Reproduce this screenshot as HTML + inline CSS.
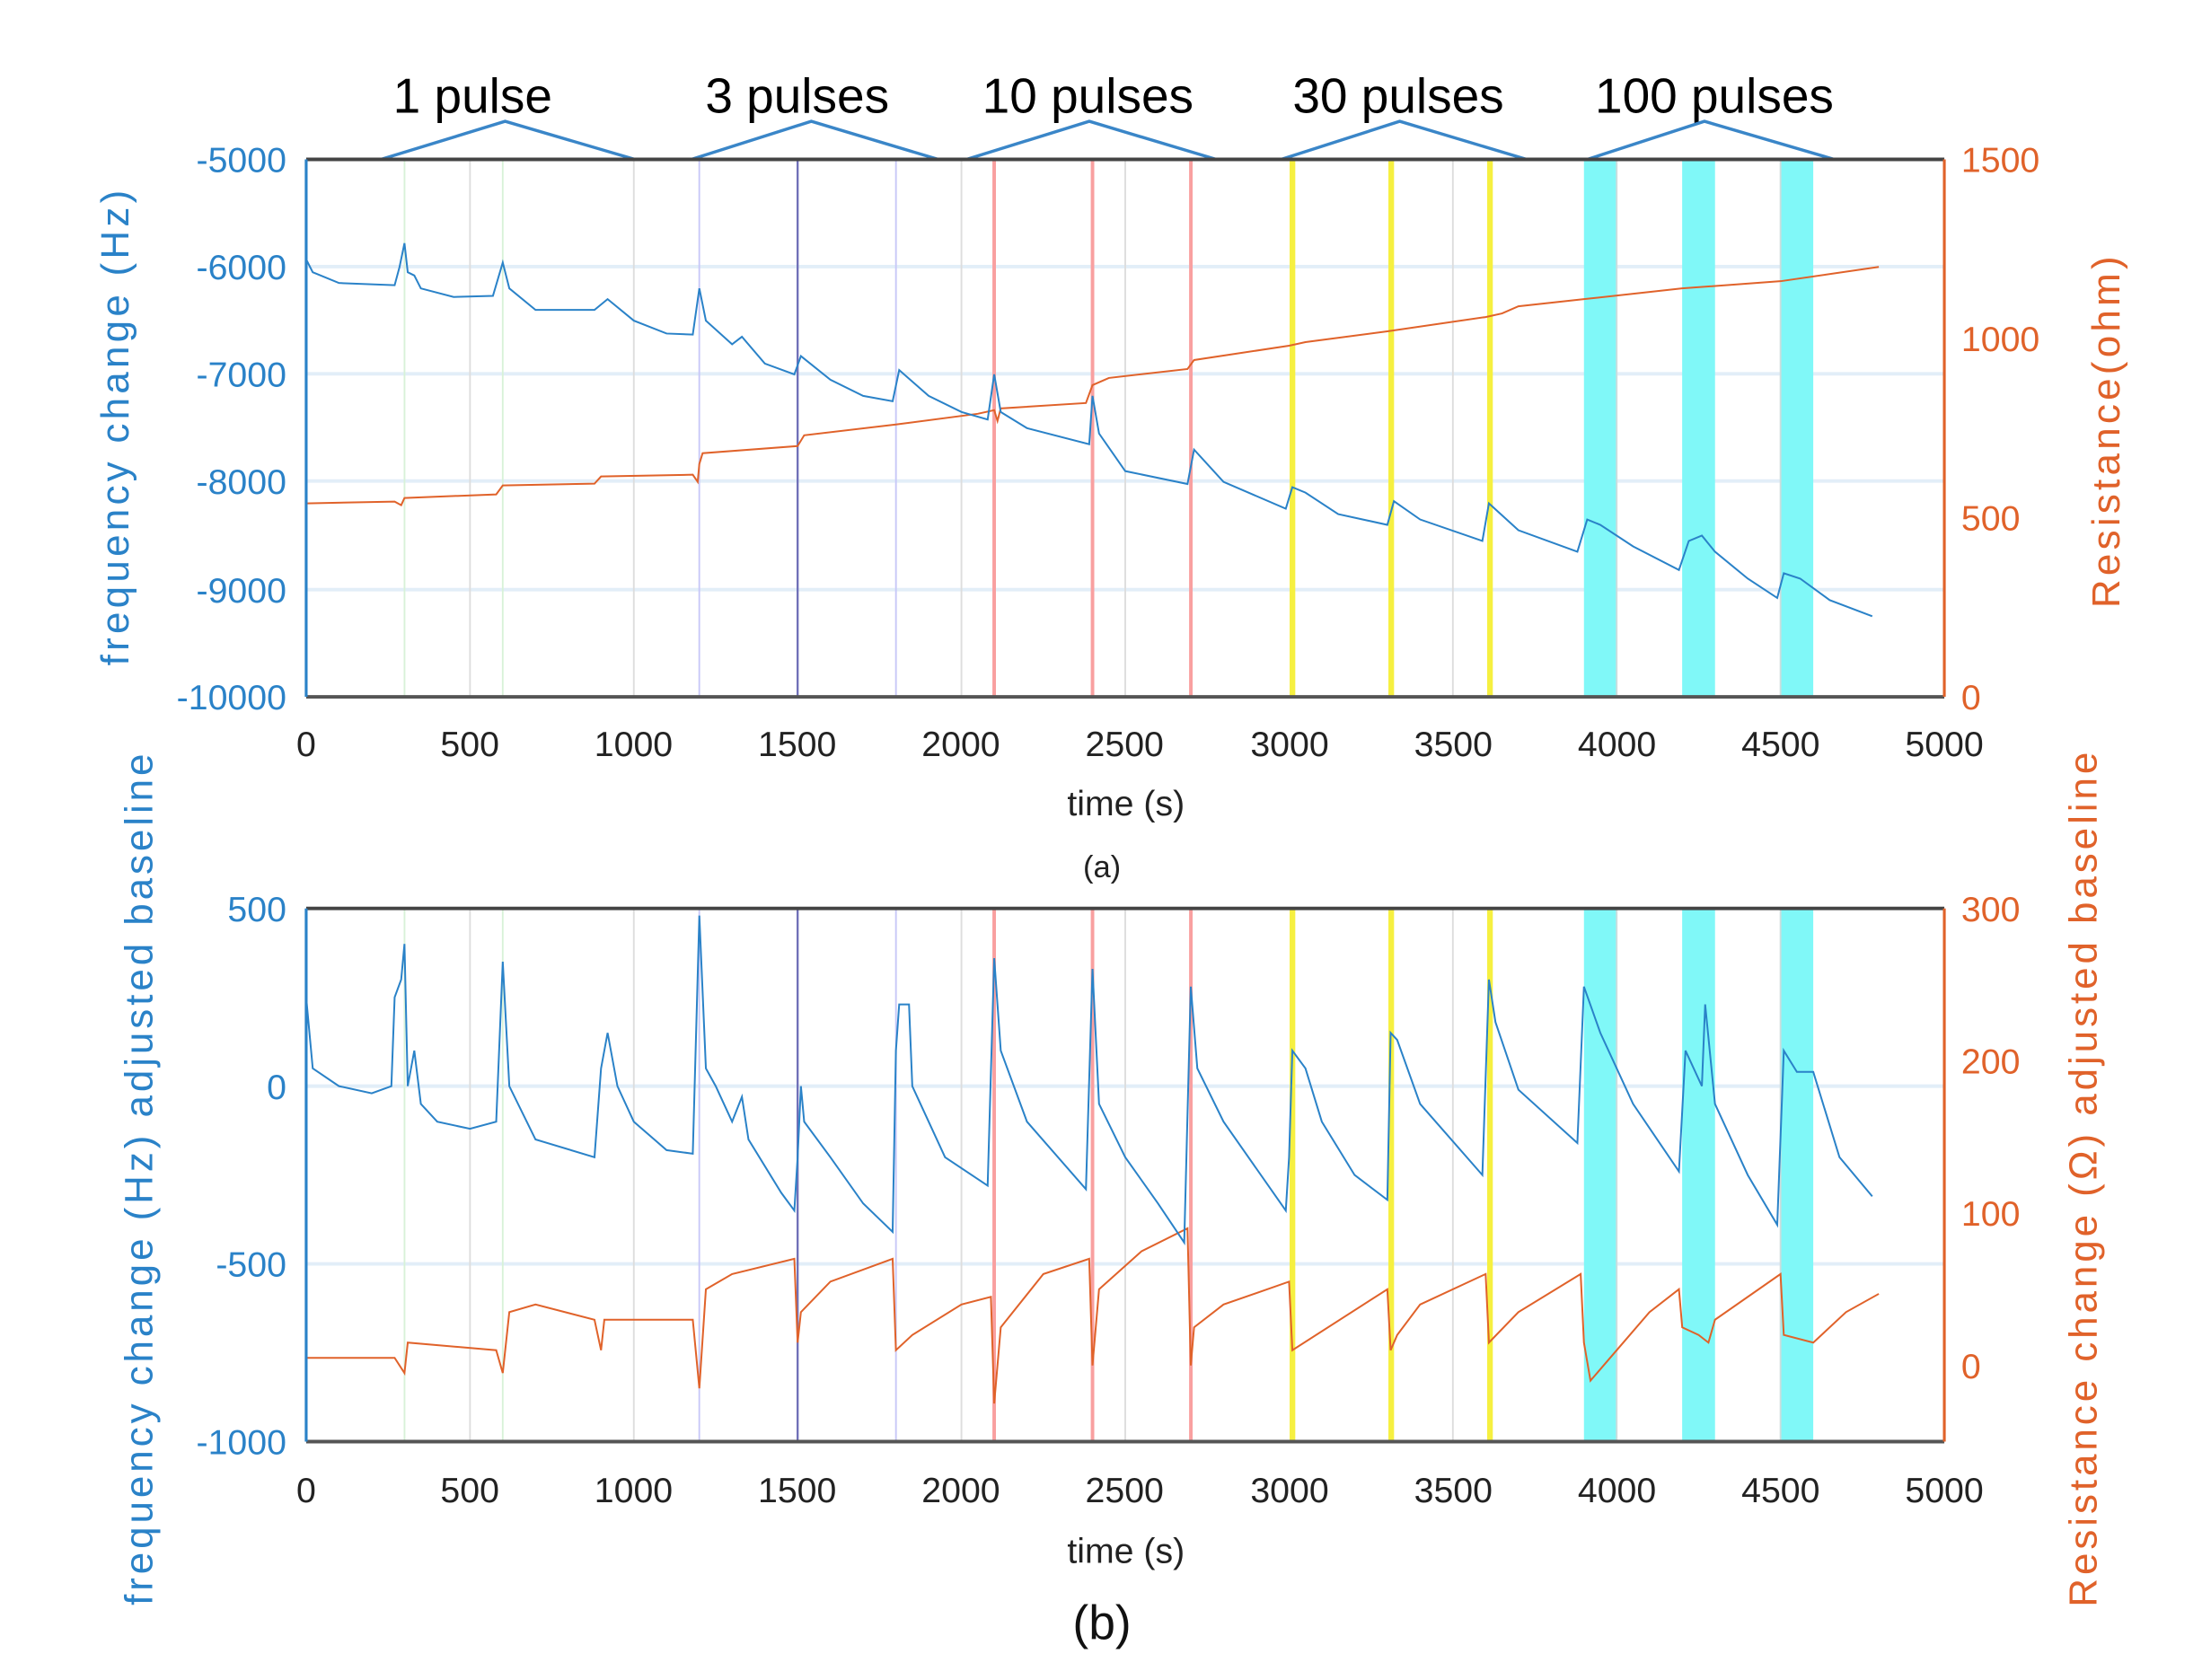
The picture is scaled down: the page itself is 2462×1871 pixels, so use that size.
<!DOCTYPE html>
<html><head><meta charset="utf-8"><style>html,body{margin:0;padding:0;background:#fff}svg{display:block}text{font-family:"Liberation Sans",sans-serif}</style></head><body>
<svg width="2462" height="1871" viewBox="0 0 1567 1191" preserveAspectRatio="none" xmlns="http://www.w3.org/2000/svg">
<g font-size="35" text-anchor="middle" fill="#000">
<text x="335" y="80">1 pulse</text><text x="565" y="80">3 pulses</text><text x="771" y="80">10 pulses</text><text x="991" y="80">30 pulses</text><text x="1215" y="80">100 pulses</text>
</g>
<g fill="none" stroke="#3a86c8" stroke-width="2.2">
<polyline points="270,113 358,86 450,113"/><polyline points="490,113 575,86 665,113"/><polyline points="685,113 772,86 862,113"/><polyline points="908,113 992,86 1082,113"/><polyline points="1125,113 1208,86 1300,113"/>
</g>

<!-- TOP PLOT -->
<g>
<g stroke="#e2eef8" stroke-width="2.5"><line x1="217" x2="1378" y1="189" y2="189"/><line x1="217" x2="1378" y1="265" y2="265"/><line x1="217" x2="1378" y1="341" y2="341"/><line x1="217" x2="1378" y1="418" y2="418"/></g>
<g fill="#80f8f8"><rect x="1122.6" y="113" width="23.2" height="381"/><rect x="1192.2" y="113" width="23.3" height="381"/><rect x="1261.9" y="113" width="23.2" height="381"/></g>
<g transform="translate(0,113)">
<g stroke-width="1.2">
<line x1="286.7" x2="286.7" y2="381" stroke="#d8f2d8"/><line x1="356.3" x2="356.3" y2="381" stroke="#d8f2d8"/>
<line x1="333.1" x2="333.1" y2="381" stroke="#ddd"/><line x1="449.2" x2="449.2" y2="381" stroke="#ddd"/>
<line x1="681.4" x2="681.4" y2="381" stroke="#ddd"/><line x1="797.5" x2="797.5" y2="381" stroke="#ddd"/><line x1="1029.7" x2="1029.7" y2="381" stroke="#ddd"/><line x1="1145.8" x2="1145.8" y2="381" stroke="#ccdddd"/><line x1="1261.9" x2="1261.9" y2="381" stroke="#ccdddd"/>
<line x1="495.6" x2="495.6" y2="381" stroke="#c8c8f8"/><line x1="635" x2="635" y2="381" stroke="#c8c8f8"/>
<line x1="565.3" x2="565.3" y2="381" stroke="#7070b8" stroke-width="1.5"/>
</g>
<g stroke="#f9a0a0" stroke-width="2.5"><line x1="704.6" x2="704.6" y2="381"/><line x1="774.3" x2="774.3" y2="381"/><line x1="844" x2="844" y2="381"/></g>
<g stroke="#f6f040" stroke-width="4"><line x1="916" x2="916" y2="381"/><line x1="986" x2="986" y2="381"/><line x1="1056" x2="1056" y2="381"/></g>
</g>
<g transform="translate(217,494) scale(0.2322,-0.254)"><polyline fill="none" stroke="#e0622a" stroke-width="2" vector-effect="non-scaling-stroke" points="0,540 270,545 290,535 300,555 580,565 600,590 880,595 900,615 1180,620 1195,600 1200,650 1210,680 1500,700 1520,730 1800,760 2050,790 2100,800 2110,770 2120,805 2380,820 2400,870 2450,890 2690,915 2710,940 3000,980 3050,990 3300,1020 3600,1060 3650,1070 3700,1090 3900,1110 4200,1140 4500,1160 4800,1200"/></g>
<g transform="translate(217,494) scale(0.2322,-0.0762) translate(0,10000)"><polyline fill="none" stroke="#2a82c8" stroke-width="2" vector-effect="non-scaling-stroke" points="0,-5930 20,-6050 100,-6150 270,-6170 285,-6000 300,-5780 310,-6050 330,-6080 350,-6200 450,-6280 570,-6270 600,-5960 620,-6200 700,-6400 880,-6400 920,-6300 1000,-6500 1100,-6620 1180,-6630 1200,-6200 1220,-6500 1300,-6720 1330,-6650 1400,-6900 1490,-7000 1510,-6830 1600,-7050 1700,-7200 1790,-7250 1810,-6960 1900,-7200 2000,-7350 2080,-7420 2100,-7000 2120,-7350 2200,-7500 2390,-7650 2400,-7200 2420,-7550 2500,-7900 2690,-8020 2710,-7700 2800,-8000 2990,-8250 3010,-8050 3050,-8100 3150,-8300 3300,-8400 3320,-8180 3400,-8350 3590,-8550 3610,-8200 3700,-8450 3880,-8650 3910,-8350 3950,-8400 4050,-8600 4190,-8820 4220,-8550 4260,-8500 4300,-8650 4400,-8900 4490,-9080 4510,-8850 4560,-8900 4650,-9100 4780,-9250"/></g>
<line x1="217" y1="113" x2="1378" y2="113" stroke="#444" stroke-width="2.5"/>
<line x1="217" y1="494" x2="1378" y2="494" stroke="#555" stroke-width="2.5"/>
<line x1="217" y1="113" x2="217" y2="494" stroke="#2a82c8" stroke-width="2"/>
<line x1="1378" y1="113" x2="1378" y2="494" stroke="#e0622a" stroke-width="2"/>
<g fill="#2a82c8" font-size="25" text-anchor="end"><text x="203" y="122">-5000</text><text x="203" y="198">-6000</text><text x="203" y="274">-7000</text><text x="203" y="350">-8000</text><text x="203" y="427">-9000</text><text x="203" y="503">-10000</text></g>
<g fill="#e0622a" font-size="25"><text x="1390" y="122">1500</text><text x="1390" y="249">1000</text><text x="1390" y="376">500</text><text x="1390" y="503">0</text></g>
<g font-size="25" text-anchor="middle" fill="#222"><text x="217" y="536">0</text><text x="333" y="536">500</text><text x="449" y="536">1000</text><text x="565" y="536">1500</text><text x="681" y="536">2000</text><text x="797" y="536">2500</text><text x="914" y="536">3000</text><text x="1030" y="536">3500</text><text x="1146" y="536">4000</text><text x="1262" y="536">4500</text><text x="1378" y="536">5000</text></g>
<text x="798" y="578" font-size="25" text-anchor="middle" fill="#222">time (s)</text>
<text transform="translate(91,302) rotate(-90)" font-size="28" letter-spacing="2.7" text-anchor="middle" fill="#2a82c8">frequency change (Hz)</text>
<text transform="translate(1502,305) rotate(-90)" font-size="28" letter-spacing="2.7" text-anchor="middle" fill="#e0622a">Resistance(ohm)</text>
<text x="781" y="622" font-size="22" text-anchor="middle" fill="#222">(a)</text>
</g>

<!-- BOTTOM PLOT -->
<g>
<g stroke="#e2eef8" stroke-width="2.5"><line x1="217" x2="1378" y1="770" y2="770"/><line x1="217" x2="1378" y1="896" y2="896"/></g>
<g fill="#80f8f8"><rect x="1122.6" y="644" width="23.2" height="378"/><rect x="1192.2" y="644" width="23.3" height="378"/><rect x="1261.9" y="644" width="23.2" height="378"/></g>
<g transform="translate(0,644)">
<g stroke-width="1.2">
<line x1="286.7" x2="286.7" y2="378" stroke="#d8f2d8"/><line x1="356.3" x2="356.3" y2="378" stroke="#d8f2d8"/>
<line x1="333.1" x2="333.1" y2="378" stroke="#ddd"/><line x1="449.2" x2="449.2" y2="378" stroke="#ddd"/>
<line x1="681.4" x2="681.4" y2="378" stroke="#ddd"/><line x1="797.5" x2="797.5" y2="378" stroke="#ddd"/><line x1="1029.7" x2="1029.7" y2="378" stroke="#ddd"/><line x1="1145.8" x2="1145.8" y2="378" stroke="#ccdddd"/><line x1="1261.9" x2="1261.9" y2="378" stroke="#ccdddd"/>
<line x1="495.6" x2="495.6" y2="378" stroke="#c8c8f8"/><line x1="635" x2="635" y2="378" stroke="#c8c8f8"/>
<line x1="565.3" x2="565.3" y2="378" stroke="#7070b8" stroke-width="1.5"/>
</g>
<g stroke="#f9a0a0" stroke-width="2.5"><line x1="704.6" x2="704.6" y2="378"/><line x1="774.3" x2="774.3" y2="378"/><line x1="844" x2="844" y2="378"/></g>
<g stroke="#f6f040" stroke-width="4"><line x1="916" x2="916" y2="378"/><line x1="986" x2="986" y2="378"/><line x1="1056" x2="1056" y2="378"/></g>
</g>
<g transform="translate(217,968) scale(0.2322,-1.08)"><polyline fill="none" stroke="#e0622a" stroke-width="2" vector-effect="non-scaling-stroke" points="0,5 270,5 300,-5 310,15 580,10 600,-5 620,35 700,40 880,30 900,10 910,30 1180,30 1200,-15 1220,50 1300,60 1490,70 1500,15 1510,35 1600,55 1790,70 1800,10 1850,20 2000,40 2090,45 2100,-25 2120,25 2250,60 2390,70 2400,0 2420,50 2550,75 2690,90 2700,0 2710,25 2800,40 3000,55 3010,10 3300,50 3310,10 3330,20 3400,40 3600,60 3610,15 3700,35 3890,60 3900,15 3920,-10 3980,5 4100,35 4190,50 4200,25 4250,20 4280,15 4300,30 4500,60 4510,20 4600,15 4700,35 4800,47"/></g>
<g transform="translate(217,770) scale(0.2322,-0.252)"><polyline fill="none" stroke="#2a82c8" stroke-width="2" vector-effect="non-scaling-stroke" points="0,250 20,50 100,0 200,-20 260,0 270,250 290,300 300,400 310,0 330,100 350,-50 400,-100 500,-120 580,-100 600,350 620,0 700,-150 880,-200 900,50 920,150 950,0 1000,-100 1100,-180 1180,-190 1200,480 1220,50 1250,0 1300,-100 1330,-30 1350,-150 1450,-300 1490,-350 1500,-200 1510,0 1520,-100 1600,-200 1700,-330 1790,-410 1800,100 1810,230 1840,230 1850,0 1950,-200 2080,-280 2100,360 2120,100 2200,-100 2380,-290 2400,330 2420,-50 2500,-200 2600,-330 2680,-440 2700,280 2720,50 2800,-100 2990,-350 3000,-200 3010,100 3050,50 3100,-100 3200,-250 3300,-320 3310,150 3330,130 3400,-50 3590,-250 3610,300 3630,180 3700,-10 3880,-160 3900,280 3950,150 4050,-50 4190,-240 4210,100 4260,0 4270,230 4300,-50 4400,-250 4490,-390 4510,100 4550,40 4600,40 4680,-200 4780,-310"/></g>
<line x1="217" y1="644" x2="1378" y2="644" stroke="#444" stroke-width="2.5"/>
<line x1="217" y1="1022" x2="1378" y2="1022" stroke="#555" stroke-width="2.5"/>
<line x1="217" y1="644" x2="217" y2="1022" stroke="#2a82c8" stroke-width="2"/>
<line x1="1378" y1="644" x2="1378" y2="1022" stroke="#e0622a" stroke-width="2"/>
<g fill="#2a82c8" font-size="25" text-anchor="end"><text x="203" y="653">500</text><text x="203" y="779">0</text><text x="203" y="905">-500</text><text x="203" y="1031">-1000</text></g>
<g fill="#e0622a" font-size="25"><text x="1390" y="653">300</text><text x="1390" y="761">200</text><text x="1390" y="869">100</text><text x="1390" y="977">0</text></g>
<g font-size="25" text-anchor="middle" fill="#222"><text x="217" y="1065">0</text><text x="333" y="1065">500</text><text x="449" y="1065">1000</text><text x="565" y="1065">1500</text><text x="681" y="1065">2000</text><text x="797" y="1065">2500</text><text x="914" y="1065">3000</text><text x="1030" y="1065">3500</text><text x="1146" y="1065">4000</text><text x="1262" y="1065">4500</text><text x="1378" y="1065">5000</text></g>
<text x="798" y="1108" font-size="25" text-anchor="middle" fill="#222">time (s)</text>
<text transform="translate(108,835) rotate(-90)" font-size="28" letter-spacing="2.5" text-anchor="middle" fill="#2a82c8">frequency change (Hz) adjusted baseline</text>
<text transform="translate(1486,835) rotate(-90)" font-size="28" letter-spacing="2.5" text-anchor="middle" fill="#e0622a">Resistance change (Ω) adjusted baseline</text>
<text x="781" y="1162" font-size="34" text-anchor="middle" fill="#111">(b)</text>
</g>
</svg>
</body></html>
